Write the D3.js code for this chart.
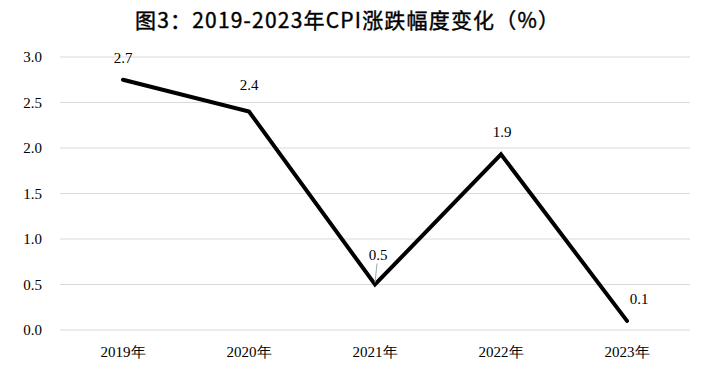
<!DOCTYPE html>
<html><head><meta charset="utf-8">
<script src="https://cdn.jsdelivr.net/npm/d3@7"></script>
<style>
body{margin:0;background:#fff}
svg text.serif{font-family:"Liberation Serif","Tinos","Times New Roman","Times","Nimbus Roman","DejaVu Serif",serif !important}
</style>
</head><body>
<svg id="c" width="708" height="374"></svg>
<script>
const title = "图3：2019-2023年CPI涨跌幅度变化（%）";
const categories = ["2019年","2020年","2021年","2022年","2023年"];
const values = [2.75, 2.4, 0.5, 1.93, 0.1];
const dataLabels = ["2.7","2.4","0.5","1.9","0.1"];
const yTicks = [0, 0.5, 1.0, 1.5, 2.0, 2.5, 3.0];

const svg = d3.select("#c");
const W = 708, H = 374;
const m = {left: 60, right: 18, top: 57, bottom: 44};
const x = d3.scaleBand().domain(categories).range([m.left, W - m.right]);
const y = d3.scaleLinear().domain([0, 3]).range([H - m.bottom, m.top]);

svg.append("rect").attr("width", W).attr("height", H).attr("fill", "#fff");

svg.append("text").attr("x", 135).attr("y", 28)
  .style("font-family", "'Noto Sans CJK SC', sans-serif").attr("font-weight", 400)
  .attr("font-size", 21).attr("fill", "#000")
  .attr("stroke", "#000").attr("stroke-width", 0.4)
  .attr("textLength", 424).attr("lengthAdjust", "spacing").text(title);

// gridlines
svg.append("g").selectAll("line").data(yTicks).join("line")
  .attr("x1", m.left).attr("x2", W - m.right)
  .attr("y1", d => y(d)).attr("y2", d => y(d))
  .attr("stroke", "#d9d9d9").attr("stroke-width", 1);

// y axis
const yAxis = svg.append("g").attr("transform", `translate(${m.left},0)`)
  .call(d3.axisLeft(y).tickValues(yTicks).tickFormat(d3.format(".1f")).tickSize(0).tickPadding(18));
yAxis.select(".domain").remove();
yAxis.attr("font-family", null);
yAxis.selectAll("text").attr("class", "serif").attr("font-size", 15).attr("fill", "#000");

// x axis
const xAxis = svg.append("g").attr("transform", `translate(0,${H - m.bottom})`)
  .call(d3.axisBottom(x).tickSize(0).tickPadding(16));
xAxis.select(".domain").remove();
xAxis.attr("font-family", null);
xAxis.selectAll("text").attr("class", "serif").attr("font-size", 15).attr("fill", "#000");

const cx = (d, i) => x(categories[i]) + x.bandwidth() / 2;

svg.append("path").datum(values)
  .attr("d", d3.line().x((d, i) => cx(d, i)).y(d => y(d)))
  .attr("fill", "none").attr("stroke", "#000").attr("stroke-width", 4)
  .attr("stroke-linejoin", "miter").attr("stroke-linecap", "round");

// data labels (offsets relative to the point)
const offs = [[0, -17], [0, -22], [3, -25], [1, -17], [12, -17]];
// leader line for 2021 label
svg.append("line")
  .attr("x1", cx(values[2], 2) + 2).attr("y1", y(values[2]) - 21)
  .attr("x2", cx(values[2], 2)).attr("y2", y(values[2]) - 2)
  .attr("stroke", "#a6a6a6").attr("stroke-width", 1);

svg.append("g").selectAll("text").data(values).join("text")
  .attr("class", "serif")
  .attr("x", (d, i) => cx(d, i) + offs[i][0])
  .attr("y", (d, i) => y(d) + offs[i][1])
  .attr("text-anchor", "middle")
  .attr("font-size", 15).attr("fill", "#000")
  .text((d, i) => dataLabels[i]);
</script>
</body></html>
